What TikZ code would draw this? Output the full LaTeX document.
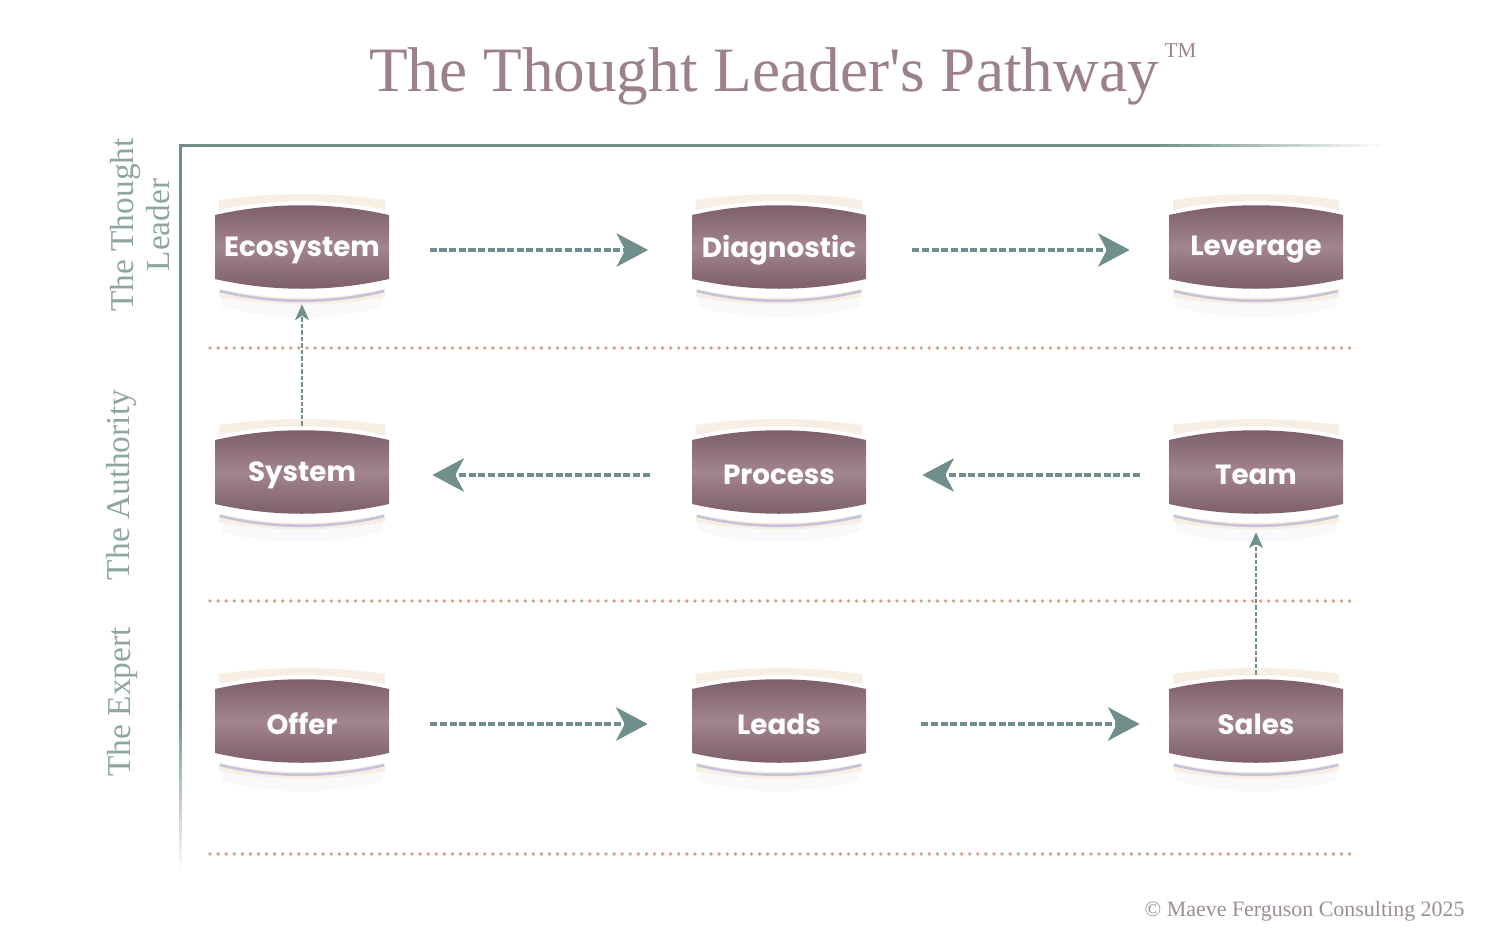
\documentclass[tikz,border=0pt]{standalone}
\usepackage{fontspec}
\setmainfont{Liberation Serif}
\newfontfamily\stagefont{Poppins}
\usetikzlibrary{arrows.meta}
\definecolor{TLmauve}{HTML}{7B5B69}
\definecolor{TLmauveL}{HTML}{A2858F}
\definecolor{TLcream}{HTML}{F7EFE4}
\definecolor{TLlilac}{HTML}{C6C2DA}
\definecolor{TLteal}{HTML}{6F8E8C}
\definecolor{TLaxis}{HTML}{6F8E8A}
\definecolor{TLsage}{HTML}{8EA6A3}
\definecolor{TLsalmon}{HTML}{D9A287}
\definecolor{TLtitle}{HTML}{9C818B}
\definecolor{TLgrey}{HTML}{9B8F95}

\begin{document}
\begin{tikzpicture}[x=0.02cm, y=-0.02cm,
            stage/.style={minimum width=3.5cm, minimum height=1.28cm, inner sep=0pt, text=white, font=\stagefont\bfseries\fontsize{15.8}{18}\selectfont},
            flow/.style={draw=TLteal, line width=2pt, dash pattern=on 4pt off 1.5pt, -{Stealth[length=18pt, width=19pt, inset=5pt]}},
            climb/.style={draw=TLteal, line width=1pt, dash pattern=on 2.5pt off 1.2pt, -{Stealth[length=9pt, width=8pt, inset=2.5pt]}},
            tier/.style={draw=TLsalmon, line width=2.2pt, line cap=round, dash pattern=on 0pt off 4.6pt},
            rowlabel/.style={rotate=90, text=TLsage, font=\fontsize{19}{20.5}\selectfont, align=center}
        ]
            \useasboundingbox (0,0) rectangle (1488,930);

            % Title
            \node (title) at (764,76) [inner sep=0pt, text=TLtitle, font=\fontsize{36}{40}\selectfont] {The Thought Leader\textquotesingle s Pathway};
            \node (tm) at ([xshift=3pt, yshift=0.68cm]title.base east) [anchor=base west, inner sep=0pt, text=TLtitle, font=\fontsize{12}{14}\selectfont] {TM};

            % Axes, fading out at their far ends
            \fill[TLaxis] (178.5,145) rectangle (181.5,700);
            \foreach \i [evaluate=\i as \op using 1-\i/17] in {0,...,16}
                \fill[TLaxis, opacity=\op] (178.5,700+\i*10) rectangle (181.5,710+\i*10);
            \fill[TLaxis] (178.5,143.5) rectangle (1150,146.5);
            \foreach \i [evaluate=\i as \op using 1-\i/23] in {0,...,22}
                \fill[TLaxis, opacity=\op] (1150+\i*10,143.5) rectangle (1160+\i*10,146.5);

            % Row labels
            \node (lbltop) at (140,225) [rowlabel] {The Thought\\Leader};
            \node (lblmid) at (122,485) [rowlabel] {The Authority};
            \node (lbllow) at (122,702) [rowlabel] {The Expert};

            % Tier separators
            \draw[tier] (210,348) -- (1350,348);
            \draw[tier] (210,601) -- (1350,601);
            \draw[tier] (210,854) -- (1350,854);

            % Stages
            \foreach \nm/\px/\py/\txt in {eco/302/247/Ecosystem, diag/779/247/Diagnostic, lev/1256/247/Leverage,
                                        sys/302/472/System, proc/779/472/Process, team/1256/472/Team,
                                        offer/302/721/Offer, leads/779/721/Leads, sales/1256/721/Sales} {
                \begin{scope}[shift={(\px,\py)}]
                    % soft shadow and cream backing
                    \fill[black, opacity=0.025] (-80,-40) .. controls (-28,-48) and (28,-48) .. (80,-40) -- (80,60) .. controls (28,74) and (-28,74) .. (-80,60) -- cycle;
                    \fill[TLcream] (-83,-47) .. controls (-28,-55) and (28,-55) .. (83,-47) -- (83,50) .. controls (28,60) and (-28,60) .. (-83,50) -- cycle;
                    % white rims
                    \fill[white] (-87,-36) .. controls (-29,-49) and (29,-49) .. (87,-36) -- (87,41) .. controls (29,54) and (-29,54) .. (-87,41) -- cycle;
                    \draw[TLlilac, line width=1.5pt] (-82,44) .. controls (-29,57) and (29,57) .. (82,44);
                    % barrel
                    \shade[top color=TLmauve, bottom color=TLmauve, middle color=TLmauveL]
                        (-87,-32) .. controls (-29,-45) and (29,-45) .. (87,-32) -- (87,32) .. controls (29,45) and (-29,45) .. (-87,32) -- cycle;
                    \node (\nm) at (0,3) [stage] {\txt};
                \end{scope}
            }

            % Pathway
            \draw[flow, shorten <=0.8cm, shorten >=0.86cm] (eco) -- (diag);
            \draw[flow, shorten <=0.91cm, shorten >=0.77cm] (diag) -- (lev);
            \draw[flow, shorten <=0.57cm, shorten >=1.11cm] (team) -- (proc);
            \draw[flow, shorten <=0.83cm, shorten >=0.85cm] (proc) -- (sys);
            \draw[flow, shorten <=0.81cm, shorten >=0.87cm] (offer) -- (leads);
            \draw[flow, shorten <=1.09cm, shorten >=0.57cm] (leads) -- (sales);
            \draw[climb, shorten <=0.34cm, shorten >=0.44cm] (sys) -- (eco);
            \draw[climb, shorten <=0.34cm, shorten >=0.5cm] (sales) -- (team);

            % Footer
            \node (copy) at (1465,916) [anchor=base east, inner sep=0pt, text=TLgrey, font=\fontsize{12.5}{14}\selectfont] {\textcopyright{} Maeve Ferguson Consulting 2025};
        \end{tikzpicture}
\end{document}
